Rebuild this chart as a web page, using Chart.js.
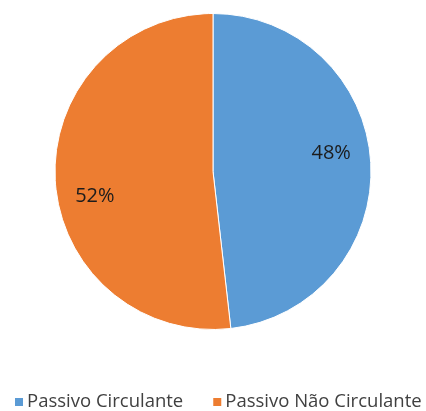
<!DOCTYPE html>
<html>
<head>
<meta charset="utf-8">
<script src="https://cdn.jsdelivr.net/npm/chart.js@4"></script>
<style>
  html, body { margin: 0; padding: 0; background: #fff; }
  #wrap { width: 426px; height: 411px; position: relative; }
</style>
</head>
<body>
<div id="wrap"><canvas id="myChart"></canvas></div>
<script>
const categories = ['Passivo Circulante', 'Passivo Não Circulante']
const values = [48.2, 51.8]
const pctLabels = ['48%', '52%']
const colors = ['#5B9BD5', '#ED7D31']

// draws the percentage inside each slice, a bit rotated like excel does
const sliceLabels = {
    id: 'sliceLabels',
    afterDatasetsDraw(chart) {
        const ctx = chart.ctx
        const meta = chart.getDatasetMeta(0)
        ctx.save()
        ctx.font = '20px "Open Sans"'
        ctx.fillStyle = '#1c1c1c'
        ctx.textAlign = 'center'
        ctx.textBaseline = 'middle'
        meta.data.forEach((arc, i) => {
            const mid = (arc.startAngle + arc.endAngle) / 2 - 7 * Math.PI / 180
            const r = arc.outerRadius * 0.76
            ctx.fillText(pctLabels[i], arc.x + Math.cos(mid) * r, arc.y + Math.sin(mid) * r + 3)
        })
        ctx.restore()
    }
}

// legend in one row at the bottom, excel style
const bottomLegend = {
    id: 'bottomLegend',
    afterDraw(chart) {
        const ctx = chart.ctx
        ctx.save()
        ctx.font = '18.5px "Open Sans"'
        ctx.textBaseline = 'middle'
        ctx.textAlign = 'left'
        let x = 15
        const y = 402
        categories.forEach((c, i) => {
            ctx.fillStyle = colors[i]
            ctx.fillRect(x, y - 4, 8, 8)
            x += 12
            ctx.fillStyle = '#404040'
            ctx.fillText(c, x, y)
            x += ctx.measureText(c).width + 30
        })
        ctx.restore()
    }
}

Chart.defaults.font.family = '"Open Sans", sans-serif'
const ctx = document.getElementById('myChart')
new Chart(ctx, {
    type: 'pie',
    data: {
        labels: categories,
        datasets: [{
            data: values,
            backgroundColor: colors,
            borderColor: '#ffffff',
            borderWidth: 1
        }]
    },
    options: {
        responsive: true,
        maintainAspectRatio: false,
        animation: false,
        layout: { padding: { top: 13, bottom: 81 } },
        plugins: {
            tooltip: { enabled: false },
            legend: { display: false }
        }
    },
    plugins: [sliceLabels, bottomLegend]
})
</script>
</body>
</html>
